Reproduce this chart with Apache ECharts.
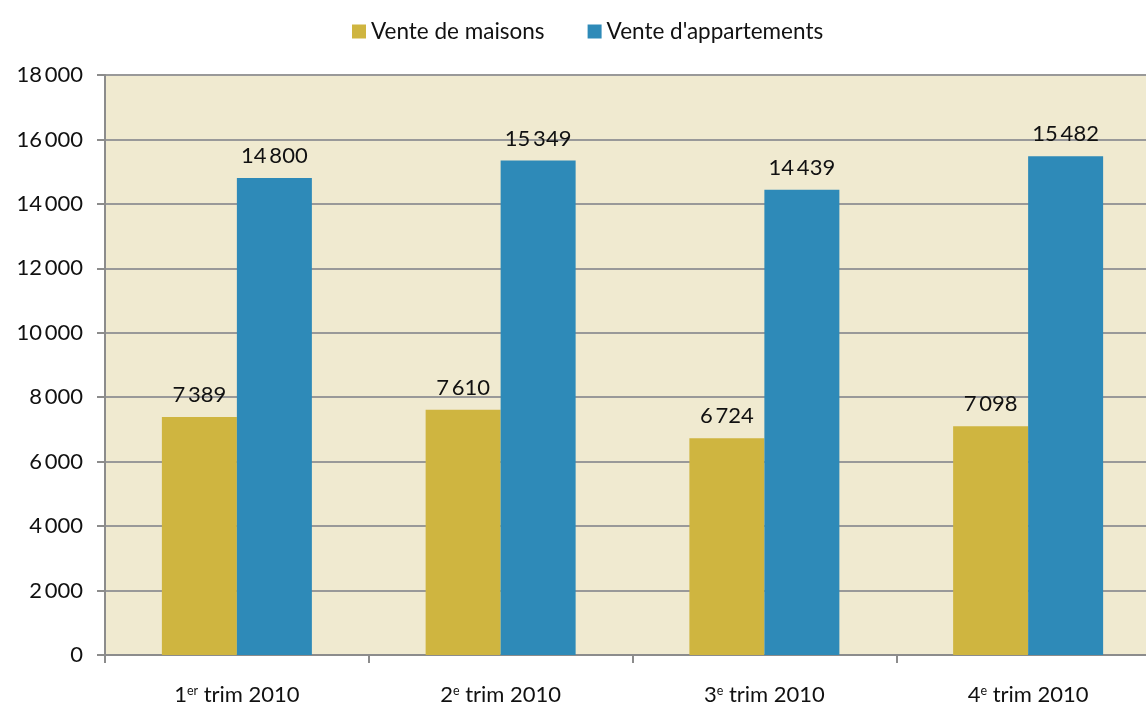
<!DOCTYPE html>
<html>
<head>
<meta charset="utf-8">
<script src="https://cdn.jsdelivr.net/npm/echarts@6/dist/echarts.min.js"></script>
<style>
html,body{margin:0;padding:0;background:#fff;overflow:hidden;}
#main{width:1160px;height:706px;}
</style>
</head>
<body>
<div id="main"></div>
<script>
var categories = ['1|er', '2|e', '3|e', '4|e'];
var maisons = [7389, 7610, 6724, 7098];
var appartements = [14800, 15349, 14439, 15482];
var yTicks = [0, 2000, 4000, 6000, 8000, 10000, 12000, 14000, 16000, 18000];

function fmt(v) {
    var s = String(v);
    if (s.length > 3) s = s.slice(0, s.length - 3) + '\u2009' + s.slice(-3);
    return s;
}

var font = 'Lato';
var fs = 22;

var option = {
    textStyle: {fontFamily: font},
    legend: {
        top: 15,
        left: 347,
        itemWidth: 14,
        itemHeight: 14,
        itemGap: 43,
        itemTextGap: 7,
        icon: 'rect',
        textStyle: {color: '#111', fontSize: 22.5, fontFamily: font}
    },
    grid: {
        left: 105,
        right: 0,
        top: 75,
        bottom: 49,
        show: true,
        backgroundColor: '#f0ead0',
        borderWidth: 0
    },
    xAxis: {
        type: 'category',
        data: categories,
        axisLine: {lineStyle: {color: '#8c8c8c', width: 2}},
        axisTick: {show: true, length: 8, lineStyle: {color: '#8c8c8c', width: 2}},
        axisLabel: {
            margin: 29,
            formatter: function (v) {
                var p = v.split('|');
                return '{n|' + p[0] + '}{s|' + p[1] + '}{n| trim 2010}';
            },
            rich: {
                n: {fontSize: fs, color: '#111', fontFamily: font},
                s: {fontSize: 12.5, color: '#111', fontFamily: font, verticalAlign: 'top', padding: [0, 0, 8, 0]}
            }
        }
    },
    yAxis: {
        type: 'value',
        min: yTicks[0],
        max: yTicks[yTicks.length - 1],
        interval: 2000,
        axisLine: {show: true, lineStyle: {color: '#8c8c8c', width: 2}},
        axisTick: {show: true, length: 8, lineStyle: {color: '#8c8c8c', width: 2}},
        splitLine: {show: true, lineStyle: {color: '#999', width: 2}},
        axisLabel: {
            margin: 22,
            fontSize: fs,
            color: '#111',
            fontFamily: font,
            formatter: fmt
        }
    },
    series: [{
        name: 'Vente de maisons',
        type: 'bar',
        data: maisons,
        barWidth: 75,
        barGap: '0%',
        itemStyle: {color: '#cfb540'},
        label: {show: true, position: 'top', distance: 11, fontSize: fs, color: '#111', fontFamily: font, formatter: function (p) { return fmt(p.value); }}
    }, {
        name: "Vente d'appartements",
        type: 'bar',
        data: appartements,
        barWidth: 75,
        barGap: '0%',
        itemStyle: {color: '#2e8ab8'},
        label: {show: true, position: 'top', distance: 11, fontSize: fs, color: '#111', fontFamily: font, formatter: function (p) { return fmt(p.value); }}
    }]
};

var myChart = echarts.init(document.getElementById('main'));
myChart.setOption(option, true);
</script>
</body>
</html>
